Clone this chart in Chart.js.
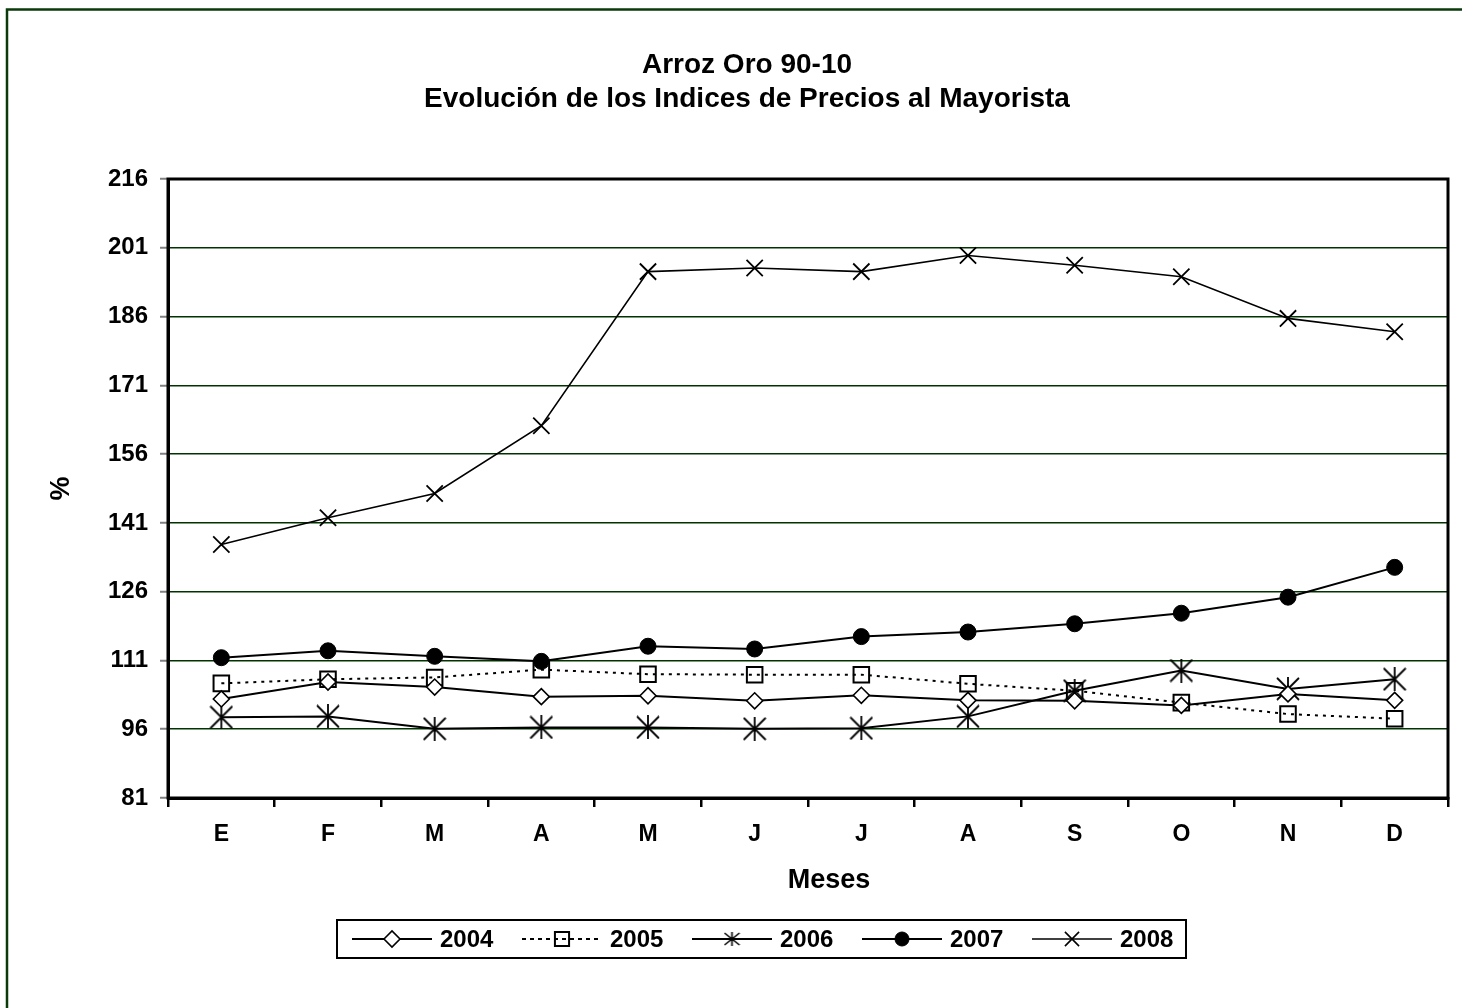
<!DOCTYPE html>
<html>
<head>
<meta charset="utf-8">
<script src="https://cdn.jsdelivr.net/npm/chart.js"></script>
<style>
  html, body { margin: 0; padding: 0; background: #fff; overflow: hidden; }
  canvas { display: block; }
</style>
</head>
<body>
<canvas id="grafico" width="1462" height="1008"></canvas>
<script>
// DATOS DEL GRAFICO
const meses = ["E", "F", "M", "A", "M", "J", "J", "A", "S", "O", "N", "D"];
const anios = ["2004", "2005", "2006", "2007", "2008"];
const serie2004 = [102.6, 106.3, 105.2, 103.1, 103.3, 102.2, 103.4, 102.3, 102.2, 101.2, 103.7, 102.3];
const serie2005 = [106.0, 106.9, 107.3, 109.0, 108.0, 107.9, 107.9, 105.9, 104.4, 101.8, 99.3, 98.3];
const serie2006 = [98.6, 98.8, 96.1, 96.4, 96.4, 96.1, 96.2, 98.8, 104.4, 108.8, 104.8, 106.9];
const serie2007 = [111.6, 113.1, 111.9, 110.8, 114.1, 113.5, 116.2, 117.2, 119.0, 121.3, 124.8, 131.3];
const serie2008 = [136.3, 142.1, 147.4, 162.2, 195.8, 196.6, 195.8, 199.3, 197.2, 194.7, 185.6, 182.7];
const ticksY = [81, 96, 111, 126, 141, 156, 171, 186, 201, 216];
const titulo = ["Arroz Oro 90-10", "Evolución de los Indices de Precios al Mayorista"];
const tituloX = "Meses";
const tituloY = "%";

const FUENTE = "'Liberation Sans', Arial, sans-serif";
Chart.defaults.font.family = FUENTE;
Chart.defaults.color = "#000";

// MARCADOR ASTERISCO (X CON LINEA VERTICAL)
const asterisco = (w, h, lw) => {
  const c = document.createElement("canvas");
  c.width = w;
  c.height = h;
  const g = c.getContext("2d");
  g.strokeStyle = "#000";
  g.lineWidth = lw;
  g.beginPath();
  g.moveTo(1, 1);
  g.lineTo(w - 1, h - 1);
  g.moveTo(w - 1, 1);
  g.lineTo(1, h - 1);
  g.moveTo(w / 2, 0);
  g.lineTo(w / 2, h);
  g.stroke();
  return c;
};

const estrellaGrande = asterisco(24, 24, 1.8);
const estrellaChica = asterisco(17, 14, 1.6);

const conjuntos = [
  {
    label: anios[0], data: serie2004, borderColor: "#000", borderWidth: 2,
    pointStyle: "rectRot", pointRadius: 8, pointBorderWidth: 1.6,
    pointBackgroundColor: "#fff", pointBorderColor: "#000",
  },
  {
    label: anios[1], data: serie2005, borderColor: "#000", borderWidth: 2, borderDash: [3, 5],
    pointStyle: "rect", pointRadius: 11, pointBorderWidth: 2,
    pointBackgroundColor: "rgba(0,0,0,0)", pointBorderColor: "#000",
  },
  {
    label: anios[2], data: serie2006, borderColor: "#000", borderWidth: 2,
    pointStyle: estrellaGrande, pointRadius: 12,
    pointBackgroundColor: "#000", pointBorderColor: "#000",
  },
  {
    label: anios[3], data: serie2007, borderColor: "#000", borderWidth: 2,
    pointStyle: "circle", pointRadius: 8, pointBorderWidth: 1,
    pointBackgroundColor: "#000", pointBorderColor: "#000",
  },
  {
    label: anios[4], data: serie2008, borderColor: "#000", borderWidth: 1.6,
    pointStyle: "crossRot", pointRadius: 11.5, pointBorderWidth: 1.8,
    pointBackgroundColor: "#000", pointBorderColor: "#000",
  },
];

// MARCADORES DE LA LEYENDA
const estilosLeyenda = [
  { pointStyle: "rectRot", radius: 8, borderWidth: 1.6, fill: "#fff" },
  { pointStyle: "rect", radius: 10, borderWidth: 2, fill: "rgba(0,0,0,0)" },
  { pointStyle: estrellaChica, radius: 8, borderWidth: 1, fill: "#000" },
  { pointStyle: "circle", radius: 7, borderWidth: 1, fill: "#000" },
  { pointStyle: "crossRot", radius: 10, borderWidth: 1.6, fill: "#000" },
];

// PLUGIN PARA TITULOS, MARCOS Y LEYENDA
const decoracion = {
  id: "decoracion",
  afterDraw(chart) {
    const ctx = chart.ctx;
    const a = chart.chartArea;
    ctx.save();

    // marco exterior
    ctx.strokeStyle = "#0a3a0a";
    ctx.lineWidth = 2.5;
    ctx.strokeRect(7, 9.5, 1700, 1300);

    // borde del area de trazado
    ctx.strokeStyle = "#000";
    ctx.lineWidth = 3;
    ctx.strokeRect(a.left, a.top, a.right - a.left, a.bottom - a.top);

    // titulo
    ctx.fillStyle = "#000";
    ctx.textAlign = "center";
    ctx.textBaseline = "alphabetic";
    ctx.font = `bold 28px ${FUENTE}`;
    ctx.fillText(titulo[0], 747, 73);
    ctx.fillText(titulo[1], 747, 107);

    // titulos de ejes
    ctx.font = `bold 27px ${FUENTE}`;
    ctx.textBaseline = "middle";
    ctx.fillText(tituloX, 829, 881);
    ctx.save();
    ctx.translate(62, (a.top + a.bottom) / 2);
    ctx.rotate(-Math.PI / 2);
    ctx.fillText(tituloY, 0, 0);
    ctx.restore();

    // leyenda
    const yc = 939;
    ctx.lineWidth = 2;
    ctx.strokeStyle = "#000";
    ctx.strokeRect(337, 920, 849, 38);
    ctx.font = `bold 24px ${FUENTE}`;
    ctx.textAlign = "left";
    anios.forEach((anio, i) => {
      const ds = conjuntos[i];
      const x0 = 352 + i * 170;
      ctx.lineWidth = ds.borderWidth;
      ctx.setLineDash(ds.borderDash ? [4, 4] : []);
      ctx.beginPath();
      ctx.moveTo(x0, yc);
      ctx.lineTo(x0 + 80, yc);
      ctx.stroke();
      ctx.setLineDash([]);
      const est = estilosLeyenda[i];
      ctx.fillStyle = est.fill;
      ctx.lineWidth = est.borderWidth;
      Chart.helpers.drawPoint(ctx, { pointStyle: est.pointStyle, radius: est.radius, borderWidth: est.borderWidth, rotation: 0 }, x0 + 40, yc);
      ctx.fillStyle = "#000";
      ctx.fillText(anio, x0 + 88, yc + 1);
    });

    ctx.restore();
  },
};

new Chart(document.getElementById("grafico"), {
  type: "line",
  data: { labels: meses, datasets: conjuntos },
  plugins: [decoracion],
  options: {
    responsive: false,
    animation: false,
    layout: { padding: { top: 179, left: 0, right: 14, bottom: 130 } },
    elements: { line: { tension: 0, fill: false } },
    plugins: {
      legend: { display: false },
      title: { display: false },
      tooltip: { enabled: false },
    },
    scales: {
      x: {
        offset: true,
        grid: {
          display: true, drawOnChartArea: false, drawTicks: true,
          tickLength: 9, offset: true, color: "#000", lineWidth: 2.5,
        },
        border: { display: true, color: "#000", width: 3 },
        ticks: { font: { size: 23, weight: "bold" }, color: "#000", padding: 14, maxRotation: 0, autoSkip: false },
        afterFit: (s) => { s.height = 80; },
      },
      y: {
        min: ticksY[0],
        max: ticksY[ticksY.length - 1],
        afterBuildTicks: (s) => { s.ticks = ticksY.map((v) => ({ value: v })); },
        ticks: { font: { size: 24, weight: "bold" }, color: "#000", padding: 12 },
        grid: { color: "#003300", lineWidth: 1.5, tickColor: "#808080", tickLength: 8, tickWidth: 2 },
        border: { color: "#000", width: 3 },
        afterFit: (s) => { s.width = 168; },
      },
    },
  },
});
</script>
</body>
</html>
